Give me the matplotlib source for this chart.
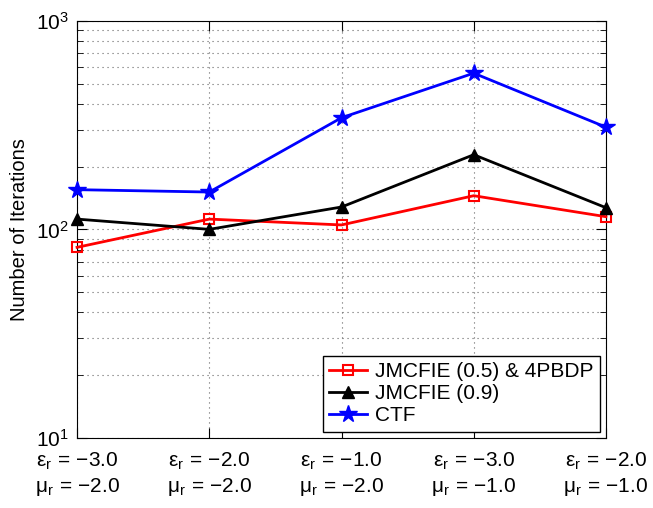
import matplotlib
matplotlib.use("Agg")
import matplotlib.pyplot as plt
from matplotlib.ticker import LogLocator, NullFormatter

plt.rcParams['font.family'] = ['Liberation Sans', 'DejaVu Sans']
plt.rcParams['mathtext.fontset'] = 'custom'
plt.rcParams['mathtext.rm'] = 'Liberation Sans'
plt.rcParams['mathtext.it'] = 'Liberation Sans'

# Data
eps_r = ["\u22123.0", "\u22122.0", "\u22121.0", "\u22123.0", "\u22122.0"]
mu_r = ["\u22122.0", "\u22122.0", "\u22122.0", "\u22121.0", "\u22121.0"]
jmcfie_05 = [82, 112, 105, 145, 115]
jmcfie_09 = [112, 100, 128, 228, 127]
ctf = [155, 151, 343, 561, 309]

labels = ["$\\mathregular{\u03b5_r\\,=\\,{%s}}$\n$\\mathregular{\u03bc_r\\,=\\,{%s}}$" % (e, m)
          for e, m in zip(eps_r, mu_r)]
x = list(range(len(labels)))

fig = plt.figure(figsize=(6.53, 5.08), dpi=100)
ax = fig.add_axes([0.118, 0.138, 0.810, 0.821])

ax.plot(x, jmcfie_05, color='red', lw=2, marker='s', ms=6.5, mfc='none', mew=1.5,
        label="JMCFIE (0.5) & 4PBDP", clip_on=False, zorder=3)
ax.plot(x, jmcfie_09, color='black', lw=2, marker='^', ms=9,
        label="JMCFIE (0.9)", clip_on=False, zorder=3)
ax.plot(x, ctf, color='blue', lw=2, marker='*', ms=13,
        label="CTF", clip_on=False, zorder=3)

ax.set_yscale('log')
ax.set_ylim(10, 1000)
ax.set_xlim(0, 4)
ax.set_xticks(x)
ax.set_xticklabels(labels, fontsize=15, linespacing=1.25)
ax.tick_params(axis='x', pad=9)
ax.yaxis.set_minor_locator(LogLocator(base=10, subs=range(2, 10)))
ax.yaxis.set_minor_formatter(NullFormatter())
ax.tick_params(axis='y', labelsize=15, pad=6)
ax.tick_params(which='both', direction='in', top=True, right=True)
ax.tick_params(which='major', length=7)
ax.tick_params(which='minor', length=4)
ax.grid(True, which='major', ls=(0, (1, 3.5)), color='#666666', lw=0.8)
ax.grid(True, which='minor', axis='y', ls=(0, (1, 3.5)), color='#666666', lw=0.8)
ax.set_ylabel("Number of Iterations", fontsize=14.5, labelpad=5)

ax.legend(loc='lower right', fontsize=15, fancybox=False, edgecolor='black',
          framealpha=1, handlelength=1.8, borderpad=0.3, labelspacing=0.15,
          handletextpad=0.4, borderaxespad=0.3)

fig.savefig("out.png", dpi=100)
